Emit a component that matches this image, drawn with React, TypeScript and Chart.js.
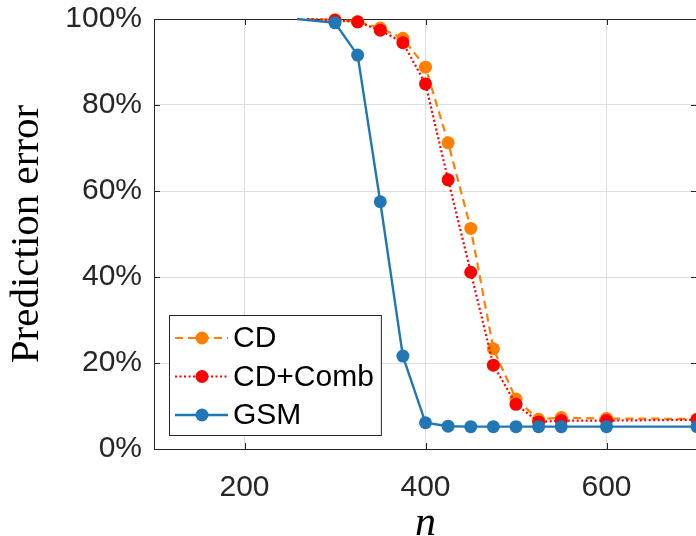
import React, { useEffect, useRef } from 'react';
import { Chart, registerables } from 'chart.js';

Chart.register(...registerables);

// ---- data ----
const gsmN = [258, 300, 325, 350, 375, 400, 425, 450, 475, 500, 525, 550, 600, 700];
const gsmErr = [100, 99.1, 91.6, 57.5, 21.6, 6.1, 5.3, 5.2, 5.2, 5.2, 5.2, 5.2, 5.2, 5.2];

const cdN = [269, 300, 325, 350, 375, 400, 425, 450, 475, 500, 525, 550, 600, 700];
const cdErr = [100, 99.8, 99.4, 97.9, 95.5, 88.8, 71.2, 51.3, 23.3, 11.6, 6.9, 7.3, 7.1, 7.0];

const combN = [269, 300, 325, 350, 375, 400, 425, 450, 475, 500, 525, 550, 600, 700];
const combErr = [100, 99.7, 99.3, 97.4, 94.5, 84.9, 62.6, 41.1, 19.5, 10.4, 6.3, 6.6, 6.6, 6.8];

const seriesLabels = ['CD', 'CD+Comb', 'GSM'];
const xTicks = [200, 400, 600];
const yTicks = [0, 20, 40, 60, 80, 100];

const ORANGE = '#FF8000';
const RED = '#FF0000';
const BLUE = '#2077B4';
const AXIS = '#262626';
const MARKER_R = 6.5;

const toPts = (xs: number[], ys: number[]) => xs.map((x, i) => ({ x, y: ys[i] }));
const markerRadius = (c: any) => (c.dataIndex === 0 ? 0 : MARKER_R);

const boxPlugin = {
  id: 'matlabBox',
  beforeDatasetsDraw(chart: any) {
    const { ctx, chartArea: a, scales } = chart;
    ctx.save();
    ctx.strokeStyle = AXIS;
    ctx.lineWidth = 1;
    ctx.beginPath();
    ctx.rect(a.left + 0.5, a.top + 0.5, a.right - a.left, a.bottom - a.top);
    ctx.stroke();
    const tl = 6;
    ctx.beginPath();
    xTicks.forEach((v) => {
      const px = Math.round(scales.x.getPixelForValue(v)) + 0.5;
      ctx.moveTo(px, a.bottom);
      ctx.lineTo(px, a.bottom - tl);
      ctx.moveTo(px, a.top);
      ctx.lineTo(px, a.top + tl);
    });
    yTicks.forEach((v) => {
      const py = Math.round(scales.y.getPixelForValue(v)) + 0.5;
      ctx.moveTo(a.left, py);
      ctx.lineTo(a.left + tl, py);
      ctx.moveTo(a.right, py);
      ctx.lineTo(a.right - tl, py);
    });
    ctx.stroke();
    ctx.restore();
  },
};

const legendPlugin = {
  id: 'insideLegend',
  afterDraw(chart: any) {
    const { ctx, chartArea: a } = chart;
    const font = '30px "Liberation Sans", Arial, sans-serif';
    ctx.save();
    ctx.font = font;
    const items = seriesLabels.map((lbl) => {
      const ds = chart.data.datasets.find((d: any) => d.label === lbl);
      return { lbl, ds };
    });
    const maxW = Math.max(...items.map((it) => ctx.measureText(it.lbl).width));
    const left = a.left + 15;
    const top = a.bottom - 134;
    const width = 64 + maxW + 7;
    const height = 120;
    ctx.fillStyle = '#FFFFFF';
    ctx.fillRect(left, top, width, height);
    ctx.strokeStyle = AXIS;
    ctx.lineWidth = 1;
    ctx.strokeRect(left + 0.5, top + 0.5, width, height);
    items.forEach((it, i) => {
      const cy = top + 23 + i * 38.5;
      const ds = it.ds;
      ctx.save();
      ctx.strokeStyle = ds.borderColor;
      ctx.lineWidth = ds.borderWidth;
      ctx.setLineDash(ds.borderDash || []);
      ctx.beginPath();
      ctx.moveTo(left + 6, cy);
      ctx.lineTo(left + 59, cy);
      ctx.stroke();
      ctx.restore();
      ctx.fillStyle = ds.pointBackgroundColor;
      ctx.beginPath();
      ctx.arc(left + 33, cy, MARKER_R, 0, Math.PI * 2);
      ctx.fill();
      ctx.fillStyle = '#000000';
      ctx.textAlign = 'left';
      ctx.textBaseline = 'middle';
      ctx.fillText(it.lbl, left + 64, cy + 1);
    });
    ctx.restore();
  },
};

export default function App() {
  const canvasRef = useRef<HTMLCanvasElement | null>(null);

  useEffect(() => {
    const canvas = canvasRef.current;
    if (!canvas) return;
    const tickFont = { family: '"Liberation Sans", Arial, sans-serif', size: 30 };
    const chart = new Chart(canvas, {
      type: 'line',
      data: {
        datasets: [
          {
            label: 'CD',
            data: toPts(cdN, cdErr),
            borderColor: ORANGE,
            backgroundColor: ORANGE,
            pointBackgroundColor: ORANGE,
            borderWidth: 2.2,
            borderDash: [8, 5],
            pointRadius: markerRadius,
            pointBorderWidth: 0,
            clip: false as any,
            order: 3,
          },
          {
            label: 'CD+Comb',
            data: toPts(combN, combErr),
            borderColor: RED,
            backgroundColor: RED,
            pointBackgroundColor: RED,
            borderWidth: 2.2,
            borderDash: [2, 2.5],
            pointRadius: markerRadius,
            pointBorderWidth: 0,
            clip: false as any,
            order: 2,
          },
          {
            label: 'GSM',
            data: toPts(gsmN, gsmErr),
            borderColor: BLUE,
            backgroundColor: BLUE,
            pointBackgroundColor: BLUE,
            borderWidth: 2.4,
            pointRadius: markerRadius,
            pointBorderWidth: 0,
            clip: false as any,
            order: 1,
          },
        ],
      },
      options: {
        animation: false,
        responsive: false,
        devicePixelRatio: 1,
        layout: { padding: { left: 0, right: 23, top: 19, bottom: 0 } },
        plugins: {
          legend: { display: false },
          tooltip: { enabled: false },
        },
        scales: {
          x: {
            type: 'linear',
            min: 100,
            max: 700,
            afterBuildTicks: (s: any) => {
              s.ticks = xTicks.map((v) => ({ value: v }));
            },
            afterFit: (s: any) => {
              s.height = 87;
              s.paddingLeft = 0;
              s.paddingRight = 0;
            },
            grid: { color: '#DEDEDE', lineWidth: 1, drawTicks: false },
            border: { display: false },
            ticks: {
              color: AXIS,
              font: tickFont,
              padding: 21,
              maxRotation: 0,
              callback: (v: any) => String(v),
            },
            title: {
              display: true,
              text: 'n',
              color: '#000000',
              font: { family: '"Liberation Serif", "Times New Roman", serif', size: 42, style: 'italic', lineHeight: 0.55 },
              padding: { top: 0, bottom: 0 },
            },
          },
          y: {
            type: 'linear',
            min: 0,
            max: 100,
            afterBuildTicks: (s: any) => {
              s.ticks = yTicks.map((v) => ({ value: v }));
            },
            afterFit: (s: any) => {
              s.width = 154;
              s.paddingTop = 0;
              s.paddingBottom = 0;
            },
            grid: { color: '#DEDEDE', lineWidth: 1, drawTicks: false },
            border: { display: false },
            ticks: {
              color: AXIS,
              font: tickFont,
              padding: 12,
              callback: (v: any) => v + '%',
            },
            title: {
              display: true,
              text: 'Prediction error',
              color: '#000000',
              font: { family: '"Liberation Serif", "Times New Roman", serif', size: 41, lineHeight: 1 },
              padding: { top: 7, bottom: 0 },
            },
          },
        },
      },
      plugins: [boxPlugin, legendPlugin],
    });
    return () => chart.destroy();
  }, []);

  return (
    <div
      style={{
        position: 'fixed',
        left: 0,
        top: 0,
        width: 696,
        height: 536,
        overflow: 'hidden',
        background: '#FFFFFF',
      }}
    >
      <canvas ref={canvasRef} width={720} height={536} style={{ display: 'block', width: 720, height: 536 }} />
    </div>
  );
}
